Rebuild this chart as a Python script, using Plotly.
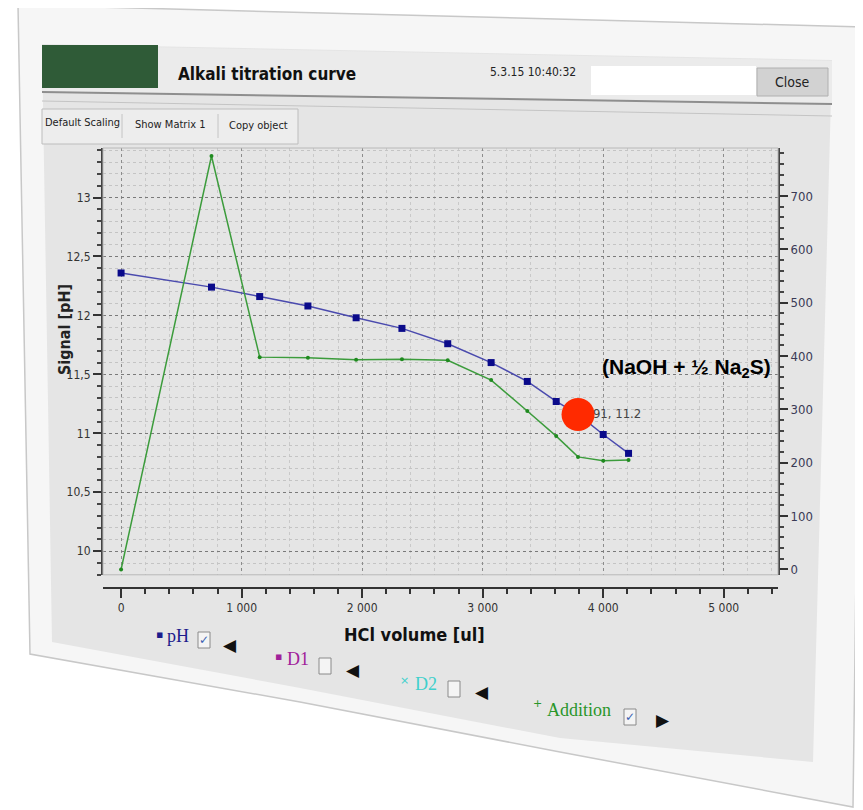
import plotly.graph_objects as go

# ---------------- data ----------------
volume_ul = [0, 750, 1150, 1550, 1950, 2330, 2710, 3070, 3370, 3610, 3791, 4000, 4210]
ph_signal = [12.36, 12.24, 12.16, 12.08, 11.98, 11.89, 11.76, 11.60, 11.44, 11.27, 11.16, 10.99, 10.83]
addition_ul = [0, 775, 398, 397, 393, 394, 392, 355, 297, 250, 211, 204, 205]

x_tick_vals = [0, 1000, 2000, 3000, 4000, 5000]
x_tick_text = ["0", "1 000", "2 000", "3 000", "4 000", "5 000"]
y_tick_vals = [10, 10.5, 11, 11.5, 12, 12.5, 13]
y_tick_text = ["10", "10,5", "11", "11,5", "12", "12,5", "13"]
y2_tick_vals = [0, 100, 200, 300, 400, 500, 600, 700]
y2_tick_text = ["0", "100", "200", "300", "400", "500", "600", "700"]

marked_x = [3791]
marked_y = [11.16]
marked_label = ["3791, 11.2"]

legend_names = ["pH", "D1", "D2", "Addition"]
legend_symbols = ["▪", "▪", "×", "+"]
legend_colors = ["#1c1c8c", "#a0209a", "#3fd0cc", "#2a962a"]
legend_checked = [True, False, False, True]
legend_arrows = ["◀", "◀", "◀", "▶"]

# ---------------- geometry helpers (screen pixels; page body has an 8px margin) ----------------
OFF = 8
W, H = 863 - OFF, 810 - OFF
SCR_LEFT, SCR_RIGHT, SCR_TOP, SCR_BOTTOM = 103, 778, 148, 588
L = SCR_LEFT - OFF
R = W - (SCR_RIGHT - OFF)
T = SCR_TOP - OFF
B = H - (SCR_BOTTOM - OFF)
PW = W - L - R
PH = H - T - B


def px(x):
    return (x - OFF - L) / PW


def py(y):
    return (H - B - (y - OFF)) / PH


def path(points):
    return "M " + " L ".join(f"{px(a):.5f},{py(b):.5f}" for a, b in points) + " Z"


NARROW = "Liberation Sans Narrow, DejaVu Sans Condensed, Arial Narrow, sans-serif"
SERIF = "Liberation Serif, DejaVu Serif, serif"

fig = go.Figure()

fig.add_trace(go.Scatter(
    x=volume_ul, y=addition_ul, yaxis="y2", mode="lines+markers",
    line=dict(color="#3c9c3c", width=1.5),
    marker=dict(color="#1f8a1f", size=4, symbol="circle"),
    name="Addition", hoverinfo="skip"))

fig.add_trace(go.Scatter(
    x=volume_ul, y=ph_signal, mode="lines+markers",
    line=dict(color="#4a4aae", width=1.5),
    marker=dict(color="#0a0a8a", size=7, symbol="square"),
    name="pH", hoverinfo="skip"))

fig.add_trace(go.Scatter(
    x=marked_x, y=marked_y, mode="text", text=marked_label,
    textposition="middle right",
    textfont=dict(family="DejaVu Sans Condensed, sans-serif", size=13, color="#444"),
    hoverinfo="skip", showlegend=False))

fig.add_trace(go.Scatter(
    x=marked_x, y=marked_y, mode="markers",
    marker=dict(color="#ff2a00", size=33, line=dict(width=0)),
    hoverinfo="skip", showlegend=False))

shapes = []
# outer window frame
shapes.append(dict(type="path", xref="paper", yref="paper", layer="below",
                   path=path([(18, 5), (863, 27), (853, 807), (560, 752), (300, 702), (30, 654)]),
                   fillcolor="#f6f6f6", line=dict(color="#c8c8c8", width=1.5)))
# gray content
shapes.append(dict(type="path", xref="paper", yref="paper", layer="below",
                   path=path([(42, 44), (832, 60), (813, 762), (560, 738), (300, 688), (52, 642)]),
                   fillcolor="#e5e5e5", line=dict(width=0)))
# header band
shapes.append(dict(type="path", xref="paper", yref="paper", layer="below",
                   path=path([(42, 45), (832, 61), (832, 104), (42, 92)]),
                   fillcolor="#ebebeb", line=dict(width=0)))
# green block
shapes.append(dict(type="rect", xref="paper", yref="paper", layer="below",
                   x0=px(42), x1=px(158), y0=py(88), y1=py(45),
                   fillcolor="#2f5b37", line=dict(width=0)))
# separator lines
shapes.append(dict(type="line", xref="paper", yref="paper", layer="below",
                   x0=px(42), y0=py(92), x1=px(832), y1=py(104),
                   line=dict(color="#8e8e8e", width=2)))
shapes.append(dict(type="line", xref="paper", yref="paper", layer="below",
                   x0=px(42), y0=py(101), x1=px(832), y1=py(116),
                   line=dict(color="#c4c4c4", width=1)))
# white box and close button
shapes.append(dict(type="rect", xref="paper", yref="paper", layer="below",
                   x0=px(591), x1=px(756), y0=py(95), y1=py(66),
                   fillcolor="#ffffff", line=dict(width=0)))
shapes.append(dict(type="rect", xref="paper", yref="paper", layer="below",
                   x0=px(757), x1=px(828), y0=py(96), y1=py(68),
                   fillcolor="#d2d2d2", line=dict(color="#b0b0b0", width=1)))
# toolbar group with separators
shapes.append(dict(type="rect", xref="paper", yref="paper", layer="below",
                   x0=px(42), x1=px(298), y0=py(144), y1=py(109),
                   fillcolor="#ededed", line=dict(color="#bdbdbd", width=1)))
for sx in (122, 218):
    shapes.append(dict(type="line", xref="paper", yref="paper", layer="below",
                       x0=px(sx), x1=px(sx), y0=py(138), y1=py(114),
                       line=dict(color="#c4c4c4", width=1)))
# plot panel border
shapes.append(dict(type="rect", xref="paper", yref="paper", layer="above",
                   x0=0, x1=1, y0=0.03, y1=1,
                   fillcolor="rgba(0,0,0,0)", line=dict(color="#b8b8b8", width=1)))
# legend checkboxes
cb_pos = [(204, 640), (325, 666), (454, 689), (630, 717)]
for (cx, cy), chk in zip(cb_pos, legend_checked):
    shapes.append(dict(type="rect", xref="paper", yref="paper", layer="above",
                       x0=px(cx - 6), x1=px(cx + 6), y0=py(cy + 8), y1=py(cy - 8),
                       fillcolor="#f4f4f4", line=dict(color="#8a8a8a", width=1)))

annotations = []


def ann(text, x, y, size, color="#111", family=NARROW, xanchor="left", angle=0):
    annotations.append(dict(text=text, x=px(x), y=py(y), xref="paper", yref="paper",
                            showarrow=False, xanchor=xanchor, yanchor="middle",
                            textangle=angle,
                            font=dict(size=size, color=color, family=family)))


ann("<b>Alkali titration curve</b>", 176, 74, 17)
ann("5.3.15 10:40:32", 488, 72, 12, "#222")
ann("Close", 792, 82, 14, "#222", xanchor="center")
ann("Default Scaling", 82, 123, 11, "#222", xanchor="center")
ann("Show Matrix 1", 170, 124, 11, "#222", xanchor="center")
ann("Copy object", 258, 126, 11, "#222", xanchor="center")
ann("<b>Signal [pH]</b>", 64, 330, 16, "#222", xanchor="center", angle=-90)
ann("<b>HCl volume [ul]</b>", 414, 634, 18, "#111", xanchor="center")
ann("<b>(NaOH + ½ Na<sub>2</sub>S)</b>", 686, 368, 21, "#000",
    family="Liberation Sans, Arial, sans-serif", xanchor="center")

sym_pos = [(159, 634), (278, 656), (404, 680), (537, 703)]
name_pos = [(165, 636), (285, 659), (413, 684), (545, 710)]
arrow_pos = [(230, 645), (353, 670), (482, 692), (663, 720)]
for i in range(4):
    ann(legend_symbols[i], sym_pos[i][0], sym_pos[i][1], 11, legend_colors[i],
        family="DejaVu Sans, sans-serif", xanchor="center")
    ann(legend_names[i], name_pos[i][0], name_pos[i][1], 18, legend_colors[i], family=SERIF)
    if legend_checked[i]:
        ann("✓", cb_pos[i][0], cb_pos[i][1], 12, "#3a5fb0",
            family="DejaVu Sans, sans-serif", xanchor="center")
    ann(legend_arrows[i], arrow_pos[i][0], arrow_pos[i][1], 17, "#111",
        family="DejaVu Sans, sans-serif", xanchor="center")

tickfont = dict(family="DejaVu Sans Condensed, sans-serif", size=12, color="#333")

fig.update_layout(
    width=W, height=H,
    margin=dict(l=L, r=R, t=T, b=B),
    paper_bgcolor="#ffffff",
    plot_bgcolor="#f9f9f9",
    showlegend=False,
    shapes=shapes,
    annotations=annotations,
    xaxis=dict(
        range=[-150, 5450], anchor="free", position=0,
        tickmode="array", tickvals=x_tick_vals, ticktext=x_tick_text,
        ticks="outside", ticklen=9, tickwidth=1.5, tickcolor="#333",
        showline=True, linecolor="#333", linewidth=2,
        showgrid=True, gridcolor="#8c8c8c", griddash="dot", gridwidth=1,
        zeroline=False, tickfont=tickfont,
        minor=dict(tickmode="linear", tick0=0, dtick=200, ticks="outside", ticklen=5,
                   tickcolor="#333", showgrid=True, gridcolor="#c9c9c9",
                   griddash="dot", gridwidth=1),
    ),
    yaxis=dict(
        domain=[0.03, 1], range=[9.8, 13.42],
        tickmode="array", tickvals=y_tick_vals, ticktext=y_tick_text,
        ticks="outside", ticklen=8, tickwidth=1.5, tickcolor="#333",
        showline=True, linecolor="#444", linewidth=2,
        showgrid=True, gridcolor="#7a7a7a", griddash="dot", gridwidth=1,
        zeroline=False, tickfont=tickfont,
        minor=dict(tickmode="linear", tick0=10, dtick=0.1, ticks="outside", ticklen=4,
                   tickcolor="#444", showgrid=True, gridcolor="#c4c4c4",
                   griddash="dot", gridwidth=1),
    ),
    yaxis2=dict(
        overlaying="y", side="right", anchor="x",
        range=[-10, 790],
        tickmode="array", tickvals=y2_tick_vals, ticktext=y2_tick_text,
        ticks="outside", ticklen=8, tickwidth=1.5, tickcolor="#333",
        showline=True, linecolor="#444", linewidth=2,
        showgrid=False, zeroline=False,
        tickfont=dict(family="DejaVu Sans Condensed, sans-serif", size=13, color="#3a3a55"),
        minor=dict(tickmode="linear", tick0=0, dtick=20, ticks="outside", ticklen=4,
                   tickcolor="#444", showgrid=False),
    ),
)

fig.write_html("out.html")
